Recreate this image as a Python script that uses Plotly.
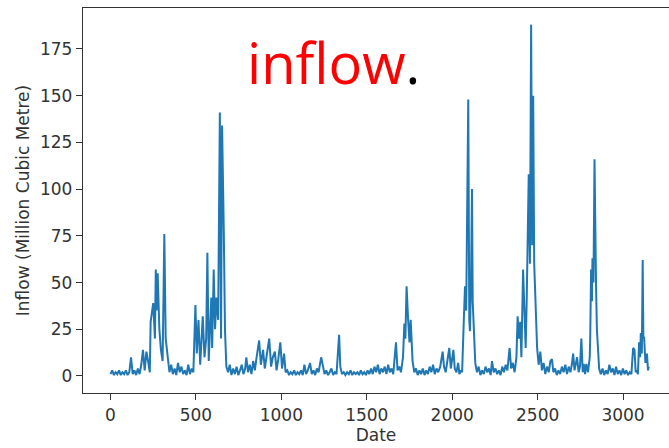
import plotly.graph_objects as go

day = [0, 10, 20, 30, 40, 50, 60, 70, 80, 90, 100, 110, 120, 130, 140, 150, 160, 170, 180, 190,
       200, 210, 220, 230, 235, 250, 260, 265, 270, 276, 286, 295, 305, 315, 323, 335, 345, 355, 365, 375,
       385, 395, 405, 415, 425, 435, 445, 455, 465, 475, 485, 497, 505, 515, 525, 540, 550, 560, 567, 575,
       585, 590, 595, 604, 612, 620, 630, 640, 647, 653, 663, 670, 678, 688, 698, 708, 718, 728, 738, 748,
       758, 768, 778, 788, 795, 805, 815, 825, 835, 845, 855, 870, 880, 893, 903, 915, 929, 940, 950, 962,
       972, 982, 994, 1004, 1016, 1025, 1035, 1045, 1055, 1065, 1075, 1085, 1095, 1105, 1115, 1125, 1135, 1145, 1155, 1168,
       1178, 1188, 1198, 1208, 1218, 1233, 1243, 1253, 1263, 1273, 1283, 1293, 1303, 1313, 1323, 1338, 1345, 1355, 1365, 1375,
       1385, 1395, 1405, 1415, 1425, 1435, 1445, 1455, 1465, 1475, 1485, 1495, 1505, 1515, 1525, 1535, 1545, 1555, 1565, 1575,
       1585, 1595, 1605, 1615, 1625, 1635, 1645, 1655, 1671, 1680, 1690, 1700, 1712, 1720, 1726, 1733, 1742, 1750, 1757, 1768,
       1778, 1788, 1798, 1808, 1818, 1828, 1838, 1848, 1858, 1868, 1878, 1888, 1898, 1908, 1918, 1930, 1944, 1952, 1962, 1972,
       1983, 1992, 2000, 2007, 2015, 2025, 2035, 2042, 2050, 2058, 2068, 2075, 2082, 2094, 2100, 2104, 2110, 2116, 2120, 2125,
       2135, 2145, 2155, 2165, 2175, 2185, 2195, 2205, 2215, 2225, 2233, 2243, 2253, 2263, 2273, 2283, 2293, 2303, 2313, 2323,
       2336, 2345, 2355, 2365, 2376, 2383, 2390, 2398, 2405, 2415, 2422, 2430, 2436, 2442, 2448, 2455, 2462, 2468, 2474, 2480,
       2487, 2497, 2506, 2516, 2525, 2535, 2545, 2555, 2565, 2575, 2584, 2592, 2602, 2612, 2622, 2632, 2642, 2652, 2662, 2672,
       2682, 2692, 2700, 2708, 2716, 2724, 2731, 2740, 2748, 2756, 2764, 2770, 2778, 2785, 2795, 2805, 2808, 2813, 2818, 2821,
       2827, 2833, 2838, 2842, 2847, 2852, 2860, 2870, 2880, 2890, 2900, 2910, 2920, 2930, 2940, 2950, 2959, 2969, 2979, 2989,
       2999, 3009, 3019, 3029, 3039, 3049, 3059, 3067, 3074, 3080, 3087, 3094, 3100, 3104, 3110, 3115, 3119, 3123, 3131, 3140,
       3146, 3151]

inflow = [1, 3, 0.5, 2, 1, 3, 0.5, 2, 1, 3, 0.5, 2, 10, 1, 3, 0.5, 4, 1, 6, 14,
          3, 13, 8, 2, 29, 39, 20, 57, 35, 55, 25, 14, 8, 76, 20, 8, 2, 6, 1, 4,
          0.5, 7, 2, 5, 1, 3, 0.5, 6, 1, 4, 2, 38, 12, 30, 6, 32, 10, 20, 66, 8,
          30, 42, 15, 57, 25, 42, 30, 141, 20, 134, 78, 25, 5, 2, 6, 0.5, 4, 1, 5, 0.5,
          3, 6, 1, 4, 10, 2, 6, 1, 8, 3, 10, 19, 6, 14, 4, 12, 20, 5, 10, 13,
          3, 9, 18, 4, 12, 2, 3, 0.5, 2, 1, 3, 0.5, 2, 1, 3, 0.5, 6, 1, 3, 7,
          1, 3, 0.5, 4, 2, 10, 6, 1, 3, 0.5, 2, 4, 0.5, 2, 1, 22, 5, 1, 2, 0.5,
          2, 1, 3, 0.5, 2, 1, 2, 0.5, 3, 1, 2, 0.5, 3, 1, 4, 1, 5, 2, 6, 1,
          4, 2, 5, 1, 6, 2, 4, 1, 18, 3, 5, 2, 10, 28, 20, 48, 30, 18, 30, 8,
          2, 4, 0.5, 3, 1, 4, 0.5, 3, 1, 5, 2, 6, 1, 4, 2, 5, 13, 5, 2, 8,
          15, 4, 10, 14, 4, 2, 7, 1, 3, 2, 30, 48, 35, 148, 30, 24, 50, 100, 40, 25,
          7, 2, 5, 0.5, 3, 1, 5, 2, 4, 0.5, 8, 2, 4, 1, 3, 0.5, 5, 2, 6, 3,
          15, 4, 7, 2, 10, 32, 20, 29, 10, 57, 30, 15, 40, 80, 108, 60, 188, 70, 150, 60,
          40, 15, 6, 13, 3, 7, 1, 5, 2, 8, 9, 2, 4, 0.5, 3, 1, 5, 2, 6, 1,
          5, 2, 6, 12, 3, 7, 10, 2, 5, 20, 2, 6.5, 1, 6.5, 2, 10, 21, 57, 40, 63,
          50, 116, 60, 48, 25, 14, 4, 1, 4, 0.5, 3, 1, 6, 2, 4, 0.5, 5, 1, 3, 0.5,
          4, 1, 3, 0.5, 2, 1, 15, 14, 2, 3, 1, 18, 10, 23, 12, 62, 20, 21, 7, 12,
          3, 5]

x_ticks = [0, 500, 1000, 1500, 2000, 2500, 3000]
y_ticks = [0, 25, 50, 75, 100, 125, 150, 175]

fig = go.Figure()
fig.add_trace(go.Scatter(x=day, y=inflow, mode="lines",
                         line=dict(color="#1f77b4", width=2)))

axis_font = dict(family="DejaVu Sans", size=17, color="#333333")
fig.update_layout(
    width=669, height=448,
    margin=dict(l=83, r=0, t=8, b=55),
    paper_bgcolor="white", plot_bgcolor="white",
    showlegend=False,
    xaxis=dict(range=[-161, 3269], tickvals=x_ticks, ticktext=[str(v) for v in x_ticks],
               ticks="outside", ticklen=6, tickwidth=1.2, tickcolor="#333333",
               showline=True, linecolor="#333333", linewidth=1.3, mirror=True,
               showgrid=False, zeroline=False, tickfont=axis_font,
               title=dict(text="Date", font=axis_font, standoff=2)),
    yaxis=dict(range=[-9.1, 196.9], tickvals=y_ticks, ticktext=[str(v) for v in y_ticks],
               ticks="outside", ticklen=6, tickwidth=1.2, tickcolor="#333333",
               showline=True, linecolor="#333333", linewidth=1.3, mirror=False,
               showgrid=False, zeroline=False, tickfont=axis_font,
               title=dict(text="Inflow (Million Cubic Metre)", font=axis_font, standoff=6)),
)

fig.add_annotation(
    text="<span style='color:#ff0000'>inflow</span><span style='color:#000000'>.</span>",
    xref="paper", yref="paper", x=(245 - 83) / 586.0, y=1.0 - (22 - 8) / 385.0,
    xanchor="left", yanchor="top", showarrow=False,
    font=dict(family="Open Sans", size=56, color="#ff0000"),
)

fig.write_html("out.html", config={"displayModeBar": False},
               post_script="document.body.style.margin='0';document.body.style.overflow='hidden';")
